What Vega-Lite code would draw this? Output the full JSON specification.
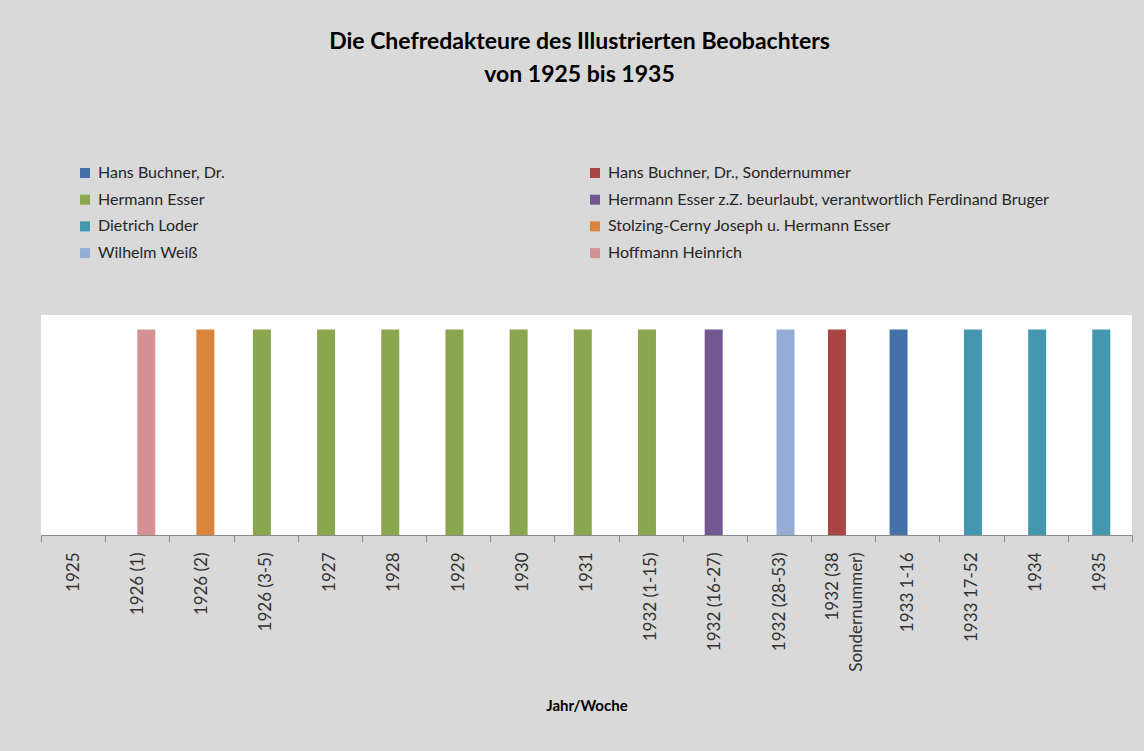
{
  "$schema": "https://vega.github.io/schema/vega-lite/v6.json",
  "width": 1091,
  "height": 220,
  "autosize": {"type": "none"},
  "padding": {"left": 41, "top": 315, "right": 12, "bottom": 216},
  "background": "#D9D9D9",
  "config": {
    "view": {"fill": "white", "stroke": null},
    "font": "Lato"
  },
  "title": {
    "text": ["Die Chefredakteure des Illustrierten Beobachters", "von 1925 bis 1935"],
    "font": "Lato",
    "fontSize": 23,
    "fontWeight": "bold",
    "color": "#000000",
    "lineHeight": 33,
    "anchor": "middle",
    "frame": "group",
    "offset": 78,
    "dx": -7
  },
  "data": {
    "values": [
      {"Jahr": "1926 (1)", "Redakteur": "Hoffmann Heinrich", "Wert": 1},
      {"Jahr": "1926 (2)", "Redakteur": "Stolzing-Cerny Joseph u. Hermann Esser", "Wert": 1},
      {"Jahr": "1926 (3-5)", "Redakteur": "Hermann Esser", "Wert": 1},
      {"Jahr": "1927", "Redakteur": "Hermann Esser", "Wert": 1},
      {"Jahr": "1928", "Redakteur": "Hermann Esser", "Wert": 1},
      {"Jahr": "1929", "Redakteur": "Hermann Esser", "Wert": 1},
      {"Jahr": "1930", "Redakteur": "Hermann Esser", "Wert": 1},
      {"Jahr": "1931", "Redakteur": "Hermann Esser", "Wert": 1},
      {"Jahr": "1932 (1-15)", "Redakteur": "Hermann Esser", "Wert": 1},
      {"Jahr": "1932 (16-27)", "Redakteur": "Hermann Esser z.Z. beurlaubt, verantwortlich Ferdinand Bruger", "Wert": 1},
      {"Jahr": "1932 (28-53)", "Redakteur": "Wilhelm Weiß", "Wert": 1},
      {"Jahr": "1932 (38 Sondernummer)", "Redakteur": "Hans Buchner, Dr., Sondernummer", "Wert": 1},
      {"Jahr": "1933 1-16", "Redakteur": "Hans Buchner, Dr.", "Wert": 1},
      {"Jahr": "1933 17-52", "Redakteur": "Dietrich Loder", "Wert": 1},
      {"Jahr": "1934", "Redakteur": "Dietrich Loder", "Wert": 1},
      {"Jahr": "1935", "Redakteur": "Dietrich Loder", "Wert": 1}
    ]
  },
  "mark": {"type": "bar", "width": 18},
  "encoding": {
    "x": {
      "field": "Jahr",
      "type": "nominal",
      "sort": null,
      "scale": {
        "domain": ["1925", "1926 (1)", "1926 (2)", "1926 (3-5)", "1927", "1928", "1929", "1930", "1931", "1932 (1-15)", "1932 (16-27)", "1932 (28-53)", "1932 (38 Sondernummer)", "1933 1-16", "1933 17-52", "1934", "1935"],
        "paddingInner": 0,
        "paddingOuter": 0
      },
      "axis": {
        "title": "Jahr/Woche",
        "titleFont": "Lato",
        "titleFontSize": 15,
        "titleFontWeight": "bold",
        "titleColor": "#000000",
        "titleY": 170,
        "titleBaseline": "middle",
        "labelAngle": -90,
        "labelAlign": "right",
        "labelBaseline": "middle",
        "labelFont": "Lato",
        "labelFontSize": 17,
        "labelColor": "#333333",
        "labelPadding": 10,
        "labelLineHeight": 24,
        "labelOffset": {"expr": "datum.value == '1932 (38 Sondernummer)' ? -11 : 0"},
        "labelExpr": "datum.value == '1932 (38 Sondernummer)' ? ['1932 (38', 'Sondernummer)'] : datum.value",
        "tickBand": "extent",
        "tickSize": 7,
        "tickColor": "#8C8C8C",
        "domainColor": "#8C8C8C",
        "labelOverlap": false
      }
    },
    "xOffset": {
      "field": "Redakteur",
      "type": "nominal",
      "scale": {
        "domain": ["Hans Buchner, Dr.", "Hans Buchner, Dr., Sondernummer", "Hermann Esser", "Hermann Esser z.Z. beurlaubt, verantwortlich Ferdinand Bruger", "Dietrich Loder", "Stolzing-Cerny Joseph u. Hermann Esser", "Wilhelm Weiß", "Hoffmann Heinrich"],
        "paddingInner": 0,
        "paddingOuter": 0,
        "range": [22, 42.4]
      }
    },
    "y": {
      "field": "Wert",
      "type": "quantitative",
      "scale": {"domain": [0, 1.07]},
      "axis": null
    },
    "color": {
      "field": "Redakteur",
      "type": "nominal",
      "scale": {
        "domain": ["Hans Buchner, Dr.", "Hans Buchner, Dr., Sondernummer", "Hermann Esser", "Hermann Esser z.Z. beurlaubt, verantwortlich Ferdinand Bruger", "Dietrich Loder", "Stolzing-Cerny Joseph u. Hermann Esser", "Wilhelm Weiß", "Hoffmann Heinrich"],
        "range": ["#4571A9", "#A94644", "#8AA64F", "#725891", "#4398B0", "#DB843D", "#95ADD4", "#D49294"]
      },
      "legend": {
        "title": null,
        "orient": "none",
        "legendX": 36,
        "legendY": -150,
        "columns": 2,
        "direction": "horizontal",
        "columnPadding": 362,
        "rowPadding": 10.7,
        "symbolType": "square",
        "symbolSize": 100,
        "symbolStrokeWidth": 0,
        "symbolOpacity": 1,
        "labelFont": "Lato",
        "labelFontSize": 16,
        "labelColor": "#262626",
        "labelOffset": 5,
        "labelLimit": 700,
        "padding": 0
      }
    }
  }
}
